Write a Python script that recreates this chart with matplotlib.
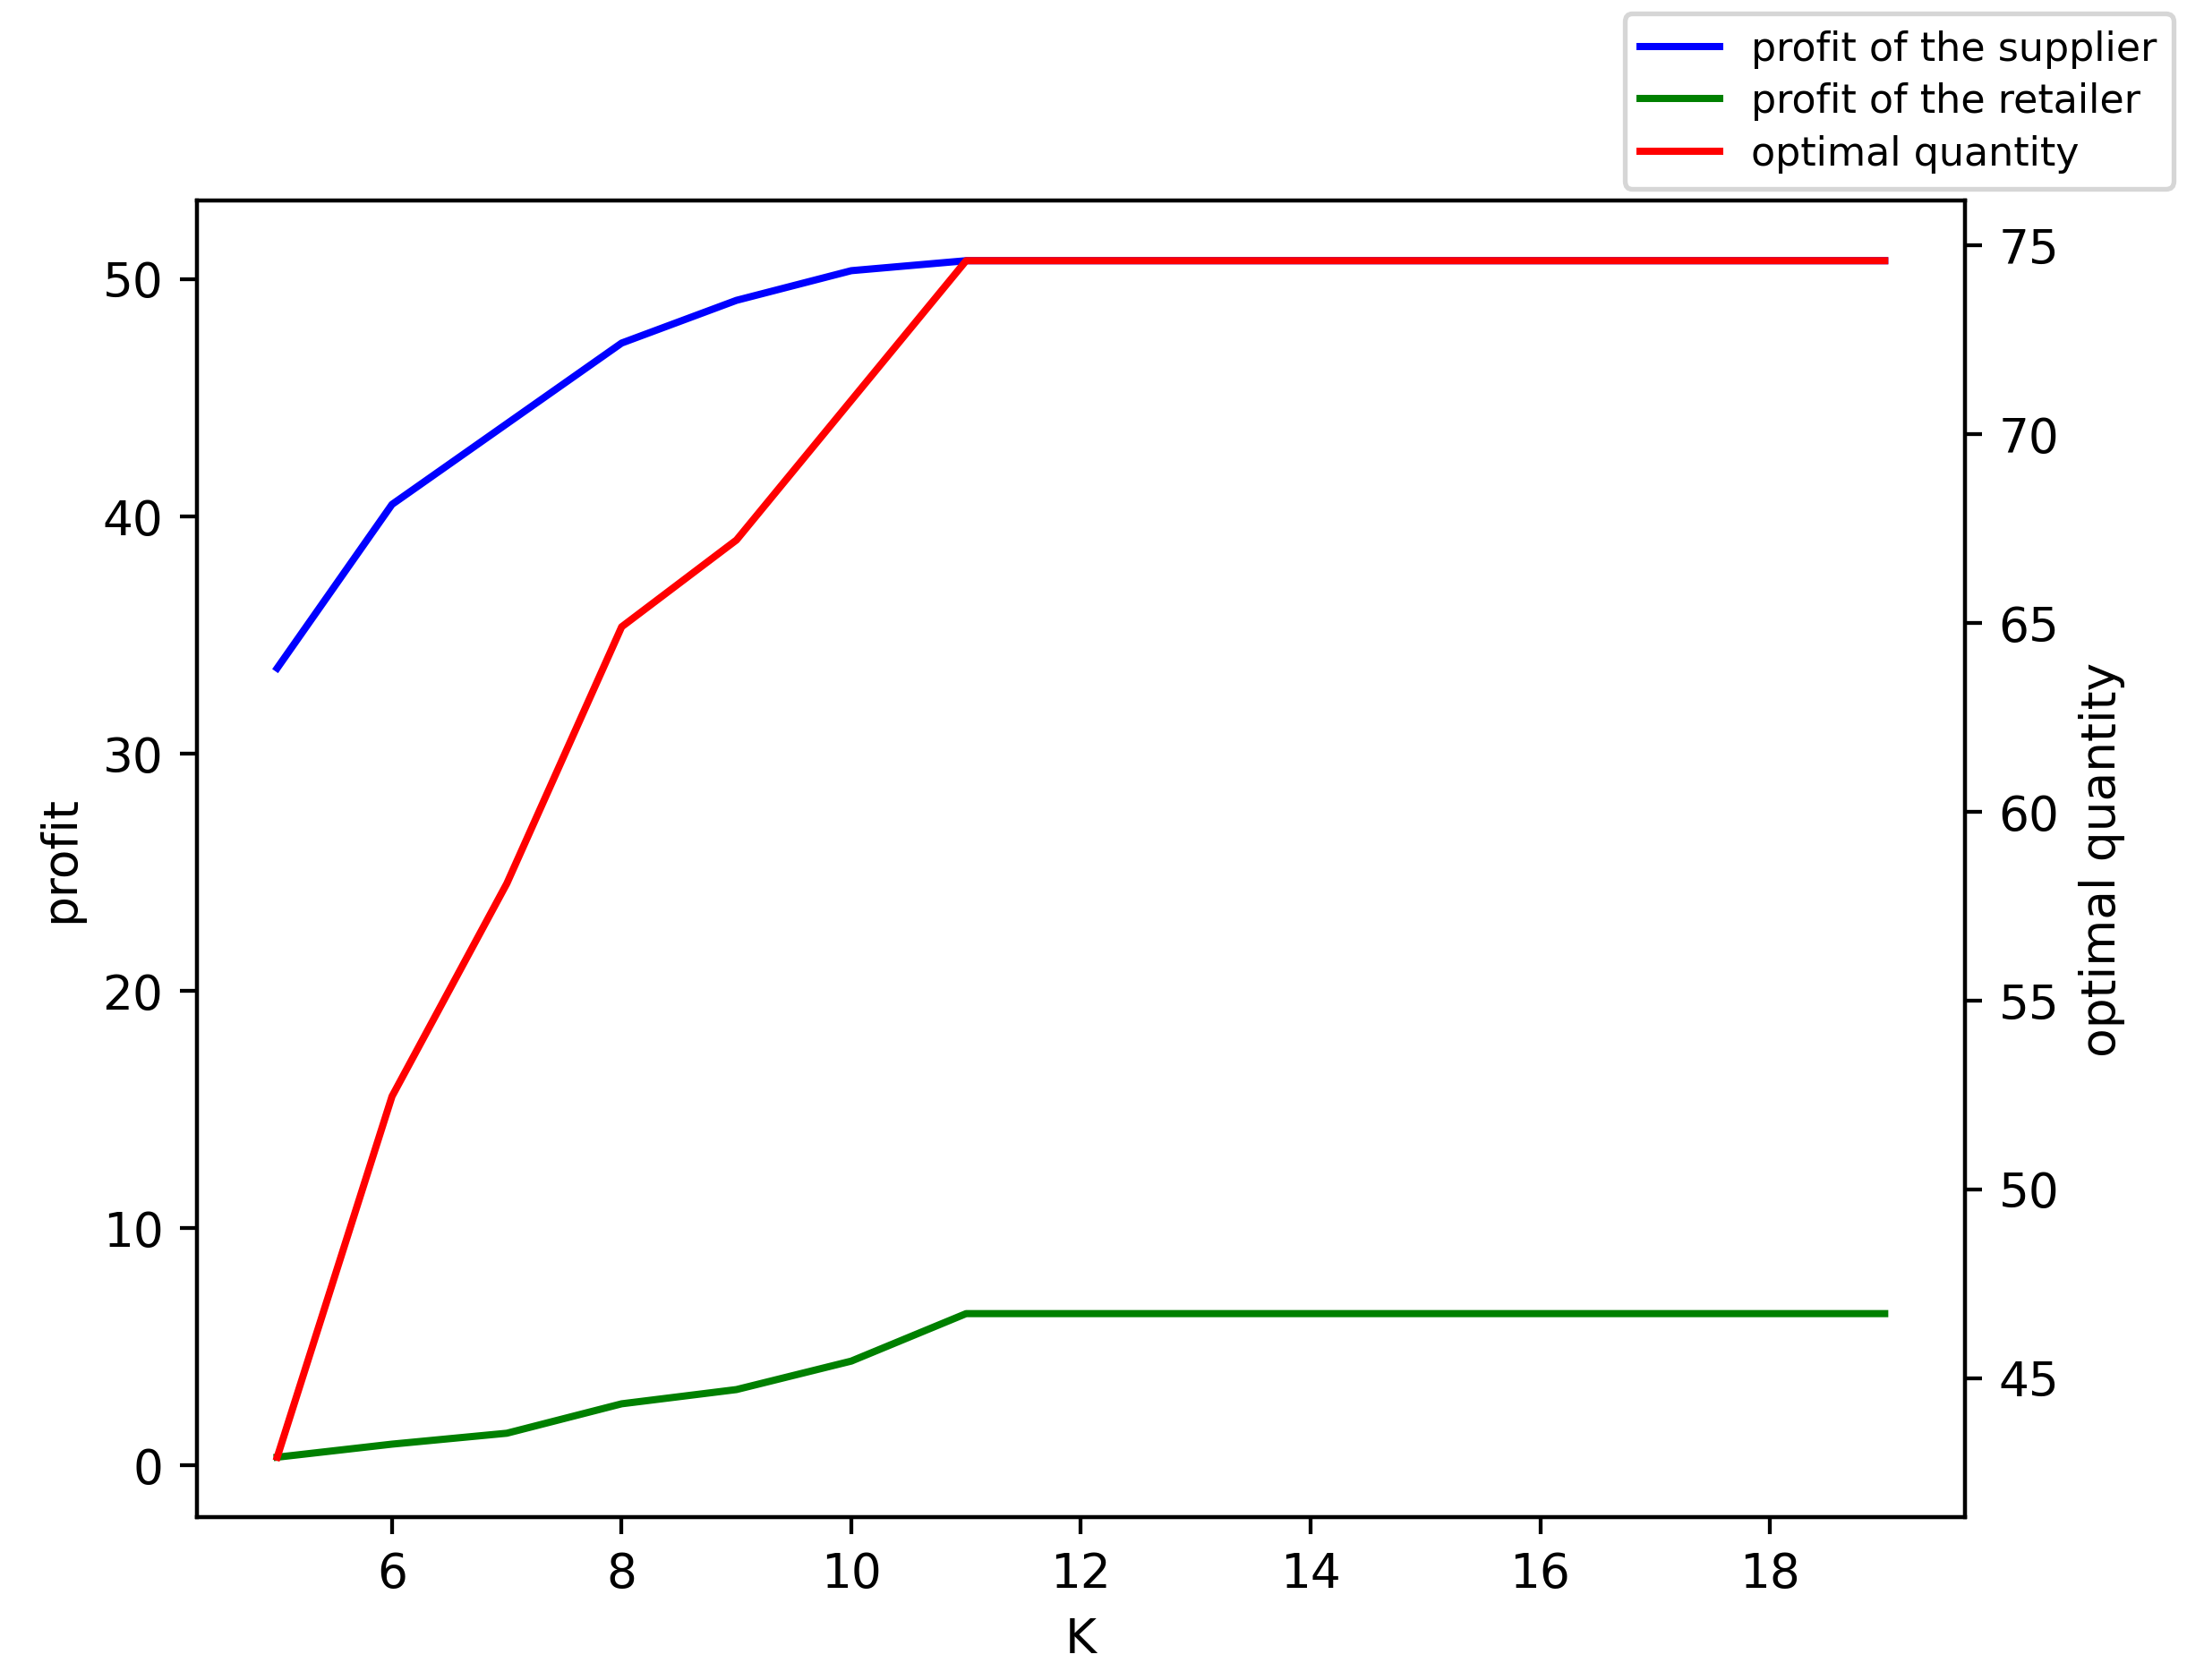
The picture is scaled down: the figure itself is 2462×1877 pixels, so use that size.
import numpy as np
import matplotlib
matplotlib.use("Agg")
import matplotlib.pyplot as plt

# K values
K = [5, 6, 7, 8, 9, 10, 11, 12, 13, 14, 15, 16, 17, 18, 19]

# profits (left axis)
supplier_profit = [33.6, 40.5, 43.9, 47.3, 49.1, 50.35, 50.77, 50.77, 50.77, 50.77,
                   50.77, 50.77, 50.77, 50.77, 50.77]
retailer_profit = [0.35, 0.9, 1.36, 2.6, 3.2, 4.4, 6.4, 6.4, 6.4, 6.4,
                   6.4, 6.4, 6.4, 6.4, 6.4]

# optimal quantity (right axis)
opt_quantity = [42.9, 52.46, 58.1, 64.9, 67.2, 70.9, 74.6, 74.6, 74.6, 74.6,
                74.6, 74.6, 74.6, 74.6, 74.6]

fig = plt.figure(figsize=(6.4, 4.88), dpi=2462/6.4)
ax1 = fig.add_axes([0.0893, 0.097, 0.8916 - 0.0893, 0.8803 - 0.097])

l1, = ax1.plot(K, supplier_profit, color='blue', label='profit of the supplier')
l2, = ax1.plot(K, retailer_profit, color='green', label='profit of the retailer')
ax1.set_xlabel('K')
ax1.set_ylabel('profit')

ax2 = ax1.twinx()
l3, = ax2.plot(K, opt_quantity, color='red', label='optimal quantity')
ax2.set_ylabel('optimal quantity')

fig.legend(handles=[l1, l2, l3], loc='upper right', fontsize=8.3, labelspacing=0.35,
           bbox_to_anchor=(0.986, 0.9916), borderaxespad=0)

fig.savefig('out.png', dpi=2462/6.4)
